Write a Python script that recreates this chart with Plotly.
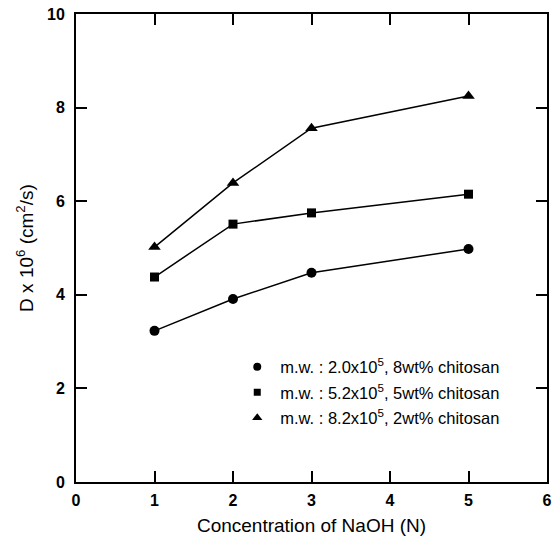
import plotly.graph_objects as go

naoh = [1, 2, 3, 5]
d_circle = [3.23, 3.91, 4.47, 4.98]
d_square = [4.38, 5.51, 5.75, 6.15]
d_triangle = [5.02, 6.39, 7.56, 8.25]

labels = [
    "m.w. : 2.0x10<sup>5</sup>, 8wt% chitosan",
    "m.w. : 5.2x10<sup>5</sup>, 5wt% chitosan",
    "m.w. : 8.2x10<sup>5</sup>, 2wt% chitosan",
]
symbols = ["circle", "square", "triangle-up"]
sizes = [10, 9, 11]
series = [d_circle, d_square, d_triangle]

font_family = "Liberation Sans, Arial, sans-serif"

fig = go.Figure()
for ys, sym, sz in zip(series, symbols, sizes):
    fig.add_trace(go.Scatter(
        x=naoh, y=ys, mode="lines+markers",
        line=dict(color="black", width=1.5),
        marker=dict(symbol=sym, size=sz, color="black"),
        showlegend=False,
    ))
for i, (lab, sym, sz) in enumerate(zip(labels, symbols, sizes)):
    fig.add_trace(go.Scatter(
        x=[None], y=[None], mode="markers",
        marker=dict(symbol=sym, size=sz - 2, color="black"),
        name=lab, legendgroup=f"g{i}", showlegend=True,
    ))

fig.update_layout(
    width=557, height=547,
    margin=dict(l=76, r=5, t=14, b=65),
    paper_bgcolor="white", plot_bgcolor="white",
    font=dict(family=font_family, color="black"),
    showlegend=True,
    legend=dict(
        x=0.336, y=0.283, xanchor="left", yanchor="top",
        bgcolor="rgba(0,0,0,0)", borderwidth=0,
        font=dict(size=16.5, family=font_family),
        tracegroupgap=1, itemwidth=36,
    ),
    xaxis=dict(
        range=[0, 6], tickvals=[0, 1, 2, 3, 4, 5, 6],
        ticks="inside", ticklen=11, tickwidth=1.5, tickcolor="black",
        showline=True, linecolor="black", linewidth=2, mirror="ticks",
        showgrid=False, zeroline=False,
        tickfont=dict(size=16, weight="bold"), ticklabelstandoff=3,
        title=dict(text="Concentration of NaOH (N)", font=dict(size=19), standoff=10),
    ),
    yaxis=dict(
        range=[0, 10], tickvals=[0, 2, 4, 6, 8, 10],
        ticks="inside", ticklen=11, tickwidth=1.5, tickcolor="black",
        showline=True, linecolor="black", linewidth=2, mirror="ticks",
        showgrid=False, zeroline=False,
        tickfont=dict(size=16, weight="bold"), ticklabelstandoff=6,
        title=dict(text="D x 10<sup>6</sup> (cm<sup>2</sup>/s)", font=dict(size=19), standoff=8),
    ),
)

fig.write_html("out.html")
